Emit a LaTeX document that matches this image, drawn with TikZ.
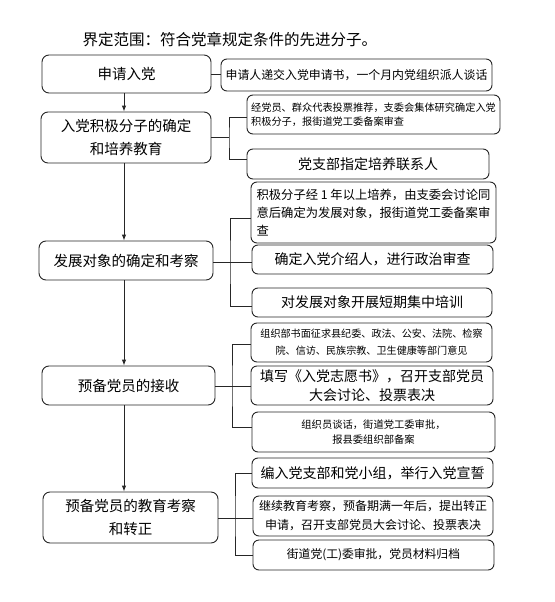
\documentclass[tikz,border=0pt]{standalone}
\usepackage{fontspec}
\setmainfont{Noto Sans CJK SC}
\usetikzlibrary{arrows.meta}
\newcommand\myfs[2]{\fontsize{#1pt}{#2pt}\selectfont}
\tikzset{
  boxline/.style={draw=black!85, line width=0.9pt},
  mainbox/.style={boxline, rounded corners=7pt, align=center, inner sep=0pt, font=\myfs{14.5}{22.5}},
  subbox/.style={boxline, rounded corners=6pt, align=center, inner sep=0pt},
  link/.style={boxline},
  arr/.style={boxline, -{Latex[length=6pt,width=4.5pt]}}
}
\begin{document}
\begin{tikzpicture}[x=1pt, y=-1pt]
\useasboundingbox (0,0) rectangle (554,602);
\fill[white] (0,0) rectangle (554,602);

\node[anchor=west, font=\myfs{15.5}{18}] (title) at (79,39.5) {界定范围：符合党章规定条件的先进分子。};

% main column
\node[mainbox, minimum width=169pt, minimum height=38pt] (b1) at (126.5,74) {申请入党};
\node[mainbox, minimum width=170pt, minimum height=51pt] (b2) at (126,137.5) {入党积极分子的确定\\和培养教育};
\node[mainbox, minimum width=174pt, minimum height=39pt] (b3) at (126,260.5) {发展对象的确定和考察};
\node[mainbox, minimum width=173pt, minimum height=39pt] (b4) at (128.5,385.5) {预备党员的接收};
\node[mainbox, minimum width=175pt, minimum height=51pt] (b5) at (130.5,517.5) {预备党员的教育考察\\和转正};

\coordinate (spine) at (124,0);
\draw[arr] (b1.south -| spine) -- (b2.north -| spine);
\draw[arr] (b2.south -| spine) -- (b3.north -| spine);
\draw[arr] (b3.south -| spine) -- (b4.north -| spine);
\draw[arr] (b4.south -| spine) -- (b5.north -| spine);

% right column
\node[subbox, minimum width=271pt, minimum height=32pt, font=\myfs{11.9}{14}] (r1) at (356.5,75) {申请人递交入党申请书，一个月内党组织派人谈话};

\node[subbox, align=left, minimum width=253pt, minimum height=39pt, font=\myfs{10.2}{14}] (r2a) at (373.5,114.5) {经党员、群众代表投票推荐，支委会集体研究确定入党\\积极分子，报街道党工委备案审查};
\node[subbox, minimum width=242pt, minimum height=30pt, font=\myfs{14}{16}] (r2b) at (368,164) {党支部指定培养联系人};

\node[subbox, align=left, minimum width=245pt, minimum height=61pt, font=\myfs{12.3}{18}] (r3a) at (373.5,212.5) {积极分子经 1 年以上培养，由支委会讨论同\\意后确定为发展对象，报街道党工委备案审\\查};
\node[subbox, minimum width=241pt, minimum height=29pt, font=\myfs{14}{16}] (r3b) at (372.5,259.5) {确定入党介绍人，进行政治审查};
\node[subbox, minimum width=240pt, minimum height=29pt, font=\myfs{14}{16}] (r3c) at (372,302.5) {对发展对象开展短期集中培训};

\node[subbox, minimum width=241pt, minimum height=39pt, font=\myfs{10.1}{17}] (r4a) at (371.5,342.5) {组织部书面征求县纪委、政法、公安、法院、检察\\院、信访、民族宗教、卫生健康等部门意见};
\node[subbox, minimum width=242pt, minimum height=39pt, font=\myfs{14}{19}] (r4b) at (372,385.5) {填写《入党志愿书》，召开支部党员\\大会讨论、投票表决};
\node[subbox, minimum width=243pt, minimum height=40pt, font=\myfs{10.3}{15}] (r4c) at (373.5,432) {组织员谈话，街道党工委审批，\\报县委组织部备案};

\node[subbox, minimum width=241pt, minimum height=30pt, font=\myfs{14}{16}] (r5a) at (372.5,473) {编入党支部和党小组，举行入党宣誓};
\node[subbox, minimum width=240pt, minimum height=40pt, font=\myfs{12}{19}] (r5b) at (373,516) {继续教育考察，预备期满一年后，提出转正\\申请，召开支部党员大会讨论、投票表决};
\node[subbox, minimum width=241pt, minimum height=30pt, font=\myfs{11.8}{14}] (r5c) at (373.5,555) {街道党(工)委审批，党员材料归档};

% connectors
\draw[link] (b1.east) -- (r1.west |- b1.east);

\coordinate (k2) at (229,137);
\draw[link] (b2.east |- k2) -- (k2);
\draw[link] (r2a.west |- 0,117) -| (k2) |- (r2b.west |- 0,159);

\coordinate (k3) at (230,262);
\draw[link] (b3.east |- k3) -- (r3b.west |- k3);
\draw[link] (r3a.west |- 0,218) -| (k3) |- (r3c.west |- 0,306);

\coordinate (k4) at (232,386);
\draw[link] (b4.east |- k4) -- (r4b.west |- k4);
\draw[link] (r4a.west |- 0,344) -| (k4) |- (r4c.west |- 0,427);

\coordinate (k5) at (235,518);
\draw[link] (b5.east |- k5) -- (r5b.west |- k5);
\draw[link] (r5a.west) -| (k5) |- (r5c.west);
\end{tikzpicture}
\end{document}
